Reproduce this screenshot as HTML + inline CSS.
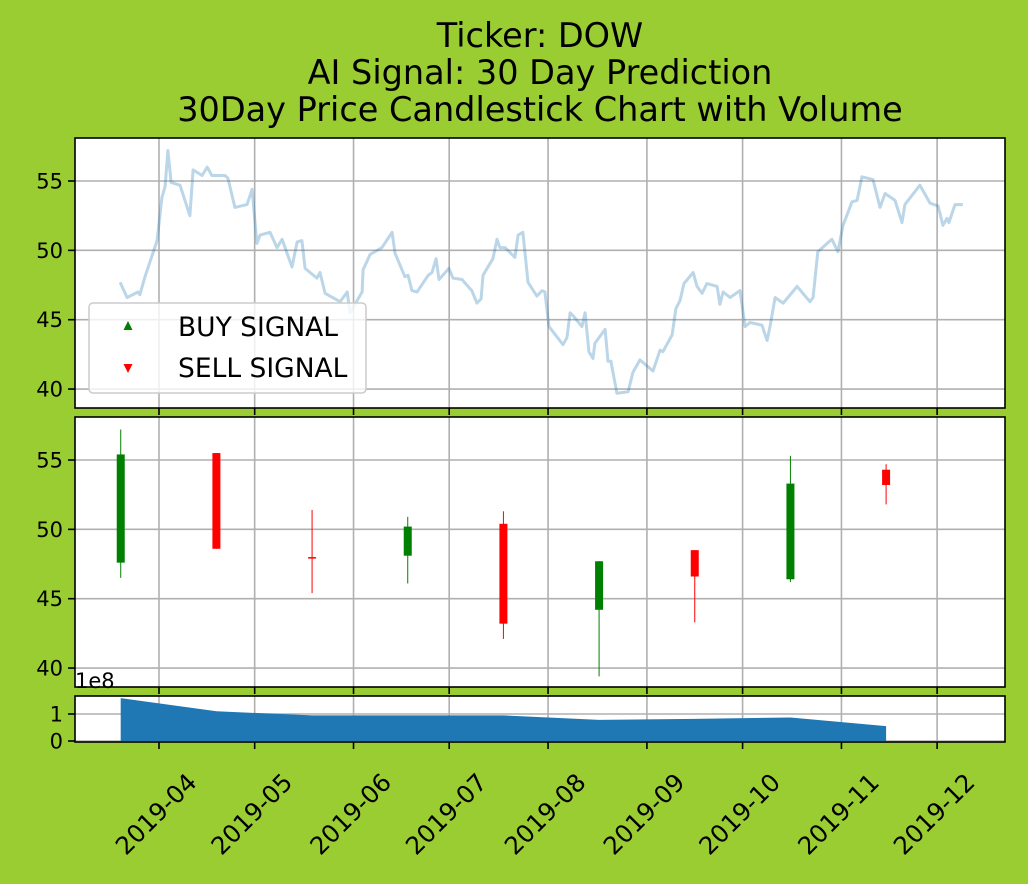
<!DOCTYPE html>
<html><head><meta charset="utf-8"><style>
body{margin:0;background:#9acd32;}
svg{display:block;font-family:"DejaVu Sans","Liberation Sans",sans-serif;}
</style></head><body>
<svg id="chart" width="1028" height="884" viewBox="0 0 1028 884" xmlns="http://www.w3.org/2000/svg">
<rect width="1028" height="884" fill="#9acd32"/>
<g font-size="33.5" text-anchor="middle" fill="#000">
<text x="540" y="47">Ticker: DOW</text>
<text x="540" y="84">AI Signal: 30 Day Prediction</text>
<text x="540" y="121">30Day Price Candlestick Chart with Volume</text>
</g>
<g id="g"></g>
</svg>
<script>
// data (day offsets from 2019-04-01)
const lineDays=[-12.2,-10,-6.6,-6,-4.4,-0.6,0.9,1.9,2.8,3.8,6.6,9.7,10.7,13.5,15.1,16.6,20.7,21.6,23.8,27.6,29.2,30.7,31.7,34.8,37,38.6,41.7,43.3,44.8,45.8,49.5,50.5,52.1,56.8,59,59.9,63.7,64,66.2,69.9,73.1,74,77.1,78.1,79.3,80.9,84.4,85.6,86.9,87.8,90.9,92.2,95,98.1,99.7,101,101.6,104.7,106,106.9,108.5,111.6,112.6,114.1,115.7,118.5,120.1,121,122.3,126.7,127.9,128.9,129.8,132.6,133.6,134.8,136.1,136.7,139.9,140.8,141.7,143.6,147.1,148.6,150.8,154.9,157.1,158,160.9,162.1,163.4,164.6,167.5,168.7,170.3,171.8,175,175.9,176.9,179.1,182.2,183.8,185.3,189.1,190.7,191.6,193.2,195.7,197.2,200.1,204.1,205.1,206.6,211,212.9,214.5,217.3,218.9,220.4,223.9,226.1,227.7,230.8,233,233.9,238.6,241.8,244.3,245.8,247.1,247.7,249.6,252.1];
const lineVals=[47.7,46.6,47,46.8,48.1,50.7,53.8,54.6,57.2,54.9,54.7,52.5,55.8,55.4,56,55.4,55.4,55.2,53.1,53.3,54.4,50.5,51.1,51.3,50.2,50.8,48.8,50.6,50.7,48.7,48,48.4,46.9,46.3,47,45.5,47,48.6,49.7,50.2,51.3,49.8,48.1,48.2,47.1,47,48.2,48.4,49.4,47.9,48.7,48,47.9,47.1,46.2,46.5,48.2,49.4,50.8,50.2,50.2,49.5,51.1,51.3,47.7,46.7,47.1,47,44.5,43.2,43.7,45.5,45.3,44.5,45.5,42.7,42.2,43.3,44.3,42,42,39.7,39.8,41.2,42.1,41.3,42.8,42.7,43.9,45.8,46.4,47.6,48.4,47.4,46.9,47.6,47.4,46.1,47,46.6,47.1,44.5,44.8,44.6,43.5,44.5,46.6,46.2,46.6,47.4,46.3,46.6,49.9,50.8,49.9,51.8,53.5,53.6,55.3,55.1,53.1,54.1,53.6,52,53.3,54.7,53.4,53.2,51.8,52.3,52,53.3,53.3];
const candleDays=[-12,18,48,78,108,138,168,198,228];
const opens=[47.6,55.5,48.0,48.1,50.4,44.2,48.5,46.4,54.3];
const closes=[55.4,48.6,47.9,50.2,43.2,47.7,46.6,53.3,53.2];
const highs=[57.2,55.5,51.4,50.9,51.3,47.7,48.5,55.3,54.7];
const lows=[46.5,48.6,45.4,46.1,42.1,39.4,43.3,46.2,51.8];
const volumes=[1.59,1.1,0.95,0.95,0.95,0.78,0.82,0.87,0.55];
const priceTicks=[40,45,50,55];
const volTicks=[0,1];
const monthLabels=["2019-04","2019-05","2019-06","2019-07","2019-08","2019-09","2019-10","2019-11","2019-12"];
const monthDays=[0,30,61,91,122,153,183,214,244];

const NS="http://www.w3.org/2000/svg";
const G=document.getElementById('g');
function el(t,a,p){const e=document.createElementNS(NS,t);for(const k in a)e.setAttribute(k,a[k]);(p||G).appendChild(e);return e;}
const X0=75,X1=1005;
const x=d=>159+d*3.189;
const P1={t:138,b:408},P2={t:417,b:687},P3={t:696,b:742};
const yTop=v=>181+(55-v)*13.87;
const yMid=v=>460+(55-v)*13.87;
const yVol=v=>741-v*27;

function panel(P,yf,ticks,name){
  const g=el('g',{});
  
  
  el('rect',{x:X0,y:P.t,width:X1-X0,height:P.b-P.t,fill:'#fff'},g);
  monthDays.forEach(d=>el('line',{x1:x(d),x2:x(d),y1:P.t,y2:P.b,stroke:'#b0b0b0','stroke-width':1.6},g));
  ticks.forEach(v=>{
    el('line',{x1:X0,x2:X1,y1:yf(v),y2:yf(v),stroke:'#b0b0b0','stroke-width':1.6},g);
    el('line',{x1:X0-7,x2:X0,y1:yf(v),y2:yf(v),stroke:'#000','stroke-width':1.6},g);
    const t=el('text',{x:X0-12,y:yf(v)+7.5,'text-anchor':'end','font-size':21},g);
    
    
    t.textContent=v;
  });
  monthDays.forEach(d=>el('line',{x1:x(d),x2:x(d),y1:P.b,y2:P.b+7,stroke:'#000','stroke-width':1.6},g));
  return g;
}
// top panel
const g1=panel(P1,yTop,priceTicks,'price-line-panel');
let pts=lineDays.map((d,i)=>x(d).toFixed(1)+','+yTop(lineVals[i]).toFixed(1)).join(' ');
const pl=el('polyline',{points:pts,fill:'none',stroke:'#1f77b4','stroke-opacity':0.3,'stroke-width':3,'stroke-linejoin':'round'},g1);


el('rect',{x:X0,y:P1.t,width:X1-X0,height:P1.b-P1.t,fill:'none',stroke:'#000','stroke-width':1.6},g1);
// legend
const lg=el('g',{},g1);


el('rect',{x:89,y:303,width:277,height:90,rx:4,fill:'#fff','fill-opacity':0.8,stroke:'#ccc','stroke-width':1.5},lg);
el('polygon',{points:'123.5,330 132.5,330 128,321',fill:'green'},lg);
el('polygon',{points:'123.5,364 132.5,364 128,373',fill:'red'},lg);
const l1=el('text',{x:178,y:336,'font-size':26.5},lg);l1.textContent='BUY SIGNAL';


const l2=el('text',{x:178,y:377,'font-size':26.5},lg);l2.textContent='SELL SIGNAL';



// middle panel
const g2=panel(P2,yMid,priceTicks,'candlestick-panel');
candleDays.forEach((d,i)=>{
  const up=closes[i]>=opens[i];const c=up?'green':'red';
  const cx=x(d);
  const w=el('line',{x1:cx,x2:cx,y1:yMid(highs[i]),y2:yMid(lows[i]),stroke:c,'stroke-width':1},g2);
  
  
  const top=yMid(Math.max(opens[i],closes[i])),bot=yMid(Math.min(opens[i],closes[i]));
  const r=el('rect',{x:cx-4,y:top,width:8,height:Math.max(bot-top,1.5),fill:c},g2);
  
  
});
el('rect',{x:X0,y:P2.t,width:X1-X0,height:P2.b-P2.t,fill:'none',stroke:'#000','stroke-width':1.6},g2);

// volume panel
const g3=panel(P3,yVol,volTicks,'volume-panel');
let vp=candleDays.map((d,i)=>x(d).toFixed(1)+','+yVol(volumes[i]).toFixed(1));
vp.push(x(candleDays[candleDays.length-1]).toFixed(1)+','+yVol(0));
vp.push(x(candleDays[0]).toFixed(1)+','+yVol(0));
const va=el('polygon',{points:vp.join(' '),fill:'#1f77b4'},g3);


el('rect',{x:X0,y:P3.t,width:X1-X0,height:P3.b-P3.t,fill:'none',stroke:'#000','stroke-width':1.6},g3);
const e8=el('text',{x:75,y:688,'font-size':21},g3);e8.textContent='1e8';


monthDays.forEach((d,i)=>{
  const cx=x(d)-3,cy=814;
  const t=el('text',{x:cx,y:cy+8.5,'text-anchor':'middle','font-size':24.5,transform:`rotate(-45 ${cx} ${cy})`},g3);
  
  
  t.textContent=monthLabels[i];
});
</script>
</body></html>
